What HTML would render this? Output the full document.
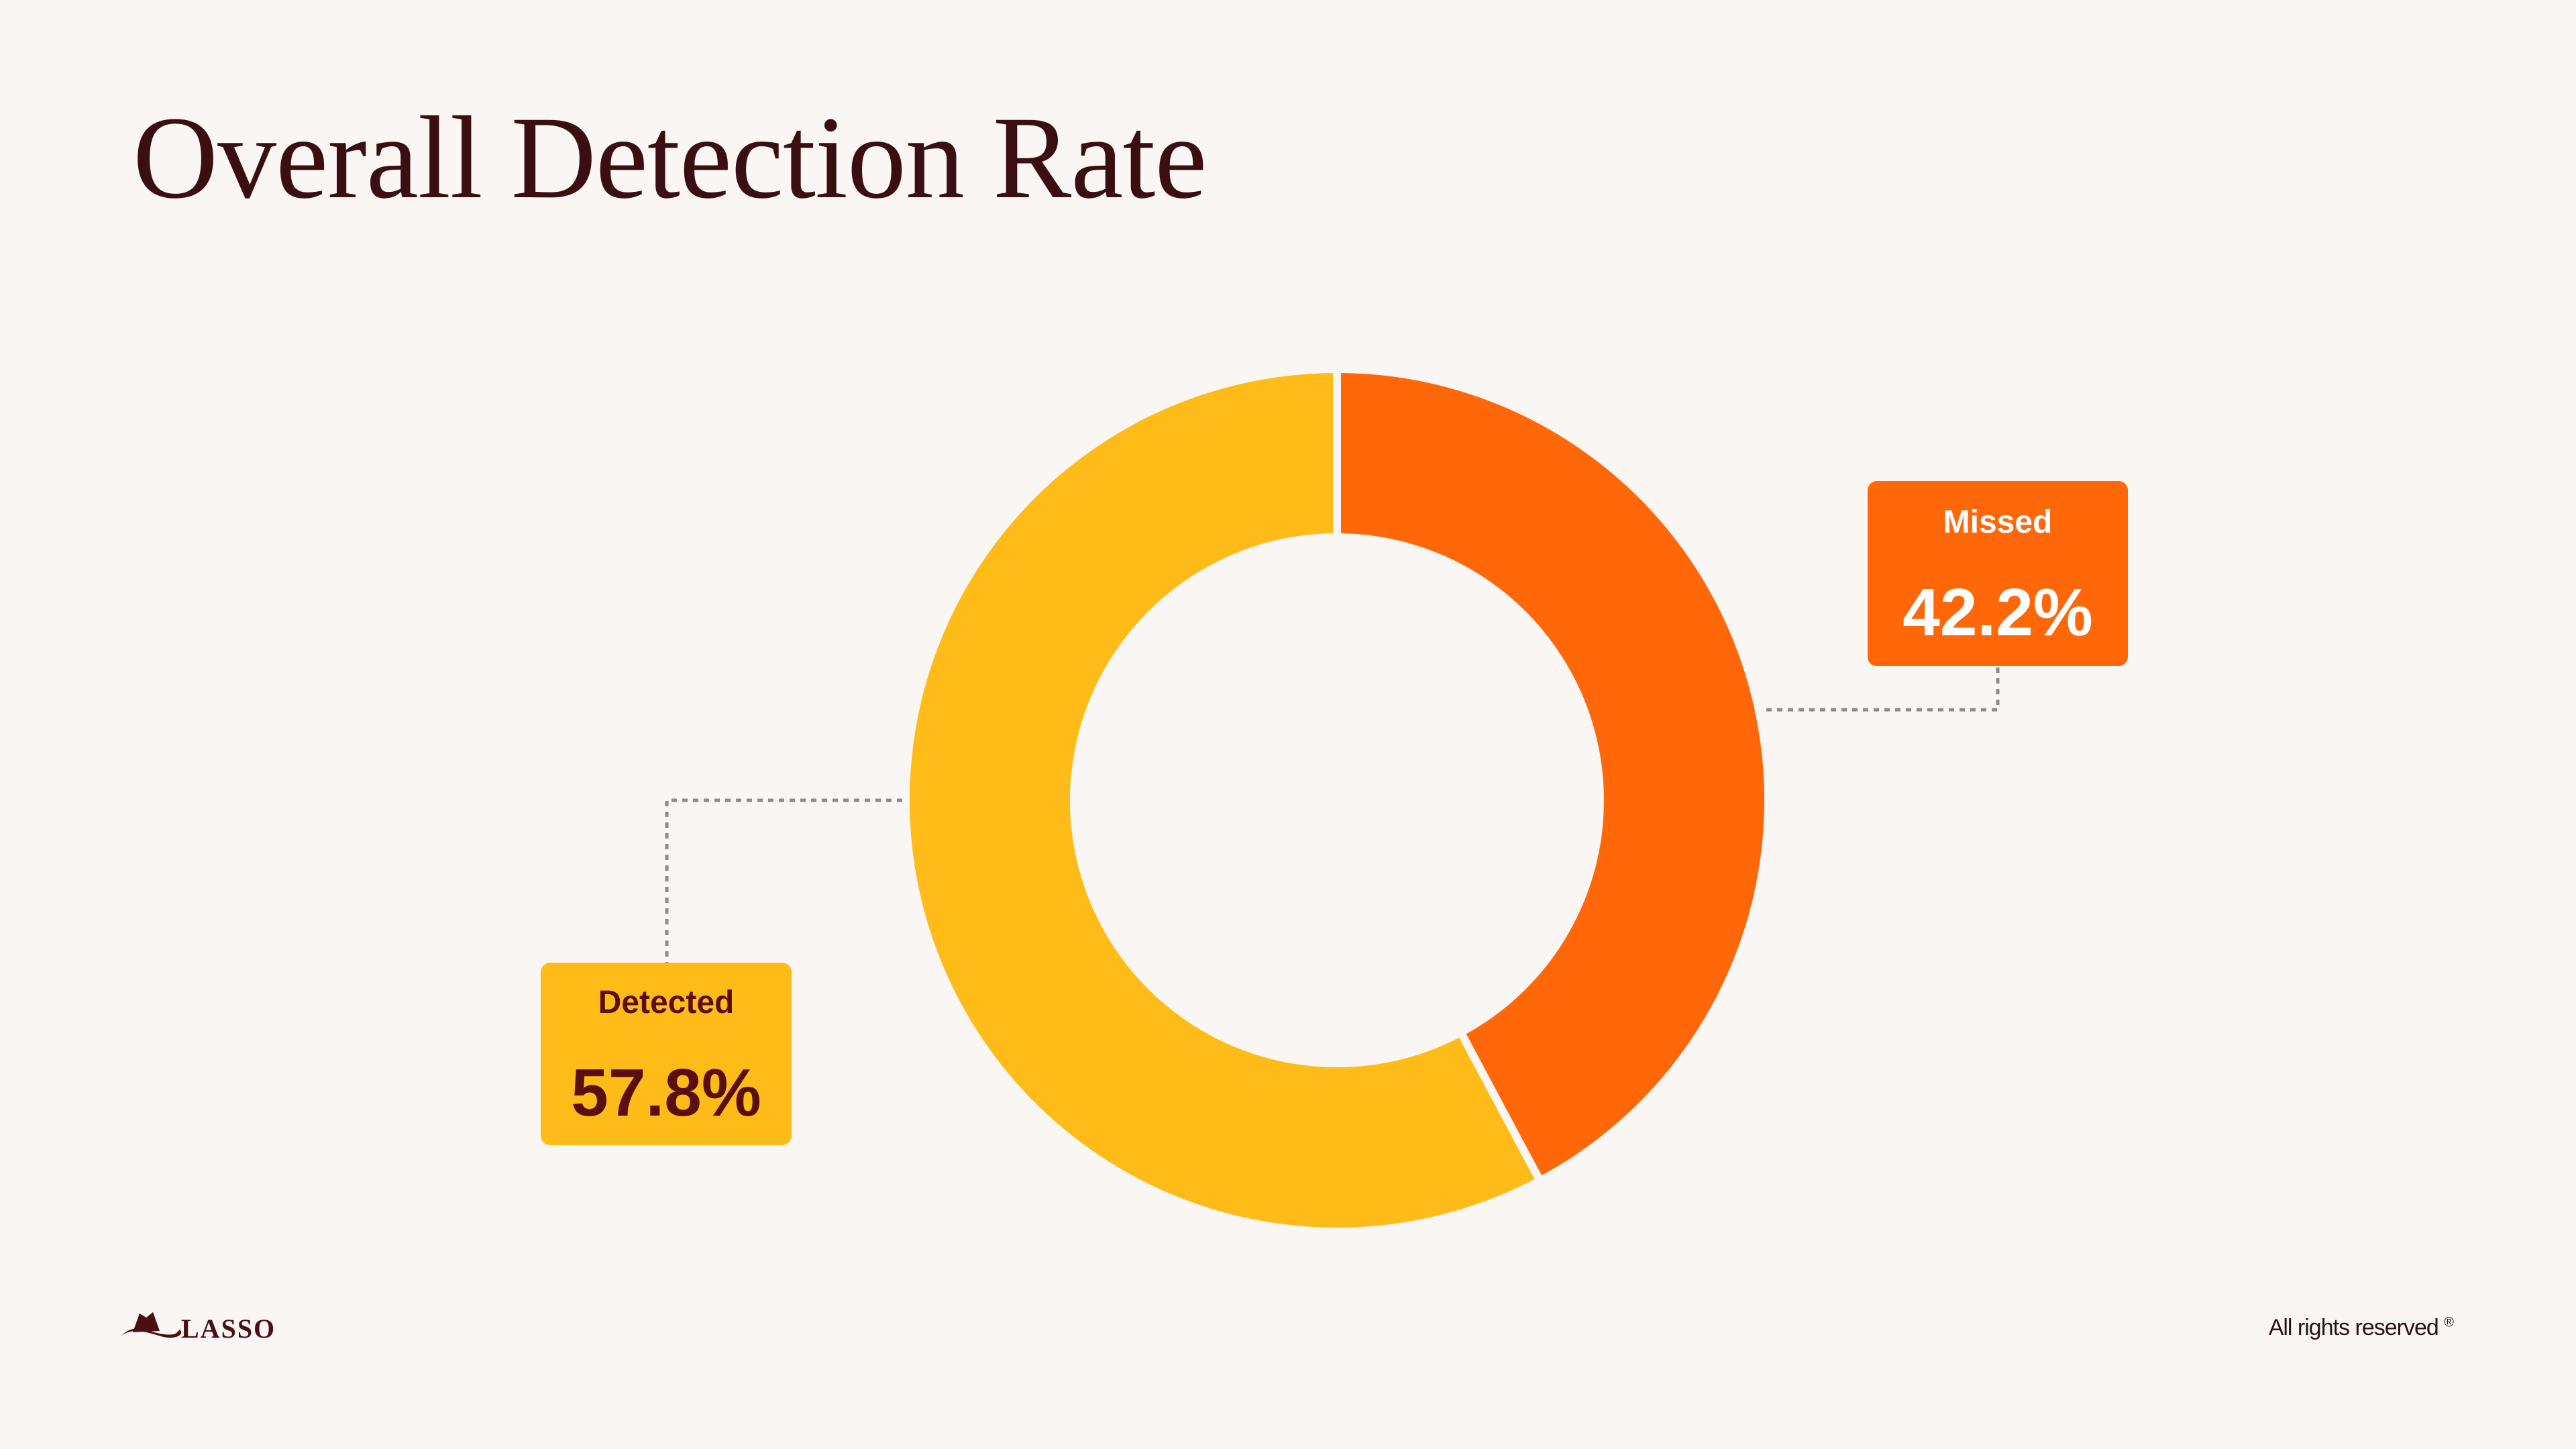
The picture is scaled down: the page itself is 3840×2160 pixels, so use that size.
<!DOCTYPE html>
<html><head><meta charset="utf-8"><style>
html,body{margin:0;padding:0;background:#faf6f4;}
body{width:3840px;height:2160px;position:relative;overflow:hidden;font-family:"Liberation Sans",sans-serif;}
#title{position:absolute;left:198px;top:148px;font-family:"Liberation Serif",serif;font-size:176px;color:#3b0f12;letter-spacing:-1px;white-space:nowrap;line-height:1;}
.box{position:absolute;border-radius:14px;text-align:center;}
.lbl{position:absolute;left:0;right:0;font-size:48px;font-weight:bold;line-height:1;}
.val{position:absolute;left:0;right:0;font-size:100px;font-weight:bold;line-height:1;}
#footer-right{position:absolute;right:183px;top:1960px;font-size:34px;color:#2a1012;letter-spacing:-1px;}
#logo{position:absolute;left:176px;top:1948px;}
</style></head><body>
<div id="title">Overall Detection Rate</div>
<svg id="chart" width="3840" height="2160" style="position:absolute;left:0;top:0">
<g id="slices"></g>
<polyline points="2633,1058 2978,1058 2978,993" fill="none" stroke="#8f8a8a" stroke-width="5" stroke-dasharray="8,8"/>
<polyline points="1345,1193 994,1193 994,1435" fill="none" stroke="#8f8a8a" stroke-width="5" stroke-dasharray="8,8"/>
</svg>
<div class="box" style="left:2784px;top:717px;width:388px;height:276px;background:#ff6709;color:#fff">
<div class="lbl" style="top:38px">Missed</div>
<div class="val" style="top:146px">42.2%</div>
</div>
<div class="box" style="left:806px;top:1435px;width:374px;height:272px;background:#ffbc18;color:#5a0f0f">
<div class="lbl" style="top:36px">Detected</div>
<div class="val" style="top:144px">57.8%</div>
</div>
<div id="logo">
<svg width="240" height="56" style="vertical-align:middle">
<path d="M4,44 C20,30 44,38 64,44 C84,50 100,42 92,34 L88,38 C84,44 62,42 42,34 C22,28 10,38 4,44Z" fill="#4a0f14"/>
<path d="M22,38 L32,10 L42,16 L52,8 L62,36 Z" fill="#4a0f14"/>
<text x="94" y="46" font-family="Liberation Serif,serif" font-weight="bold" font-size="40" fill="#4a0f14" letter-spacing="2">LASSO</text>
</svg>
</div>
<div id="footer-right">All rights reserved <sup style="font-size:20px">®</sup></div>
<script>
const categories=["Missed","Detected"];
const values=[42.2,57.8];
const colors=["#ff6709","#ffbc18"];
const cx=1993,cy=1193,R=643,r=392;
const g=document.getElementById('slices');
const total=values.reduce((a,b)=>a+b,0);
let a0=0;
function pt(rad,ang){return [cx+rad*Math.sin(ang),cy-rad*Math.cos(ang)];}
values.forEach((v,i)=>{
 const a1=a0+v/total*2*Math.PI;
 const large=(a1-a0)>Math.PI?1:0;
 const p1=pt(R,a0),p2=pt(R,a1),p3=pt(r,a1),p4=pt(r,a0);
 const p=document.createElementNS('http://www.w3.org/2000/svg','path');
 p.setAttribute('d',`M${p1[0]},${p1[1]} A${R},${R} 0 ${large} 1 ${p2[0]},${p2[1]} L${p3[0]},${p3[1]} A${r},${r} 0 ${large} 0 ${p4[0]},${p4[1]} Z`);
 p.setAttribute('fill',colors[i]);
 p.setAttribute('stroke','#faf6f4');
 p.setAttribute('stroke-width','12');
 
 
 g.appendChild(p);
 a0=a1;
});
</script>
</body></html>
